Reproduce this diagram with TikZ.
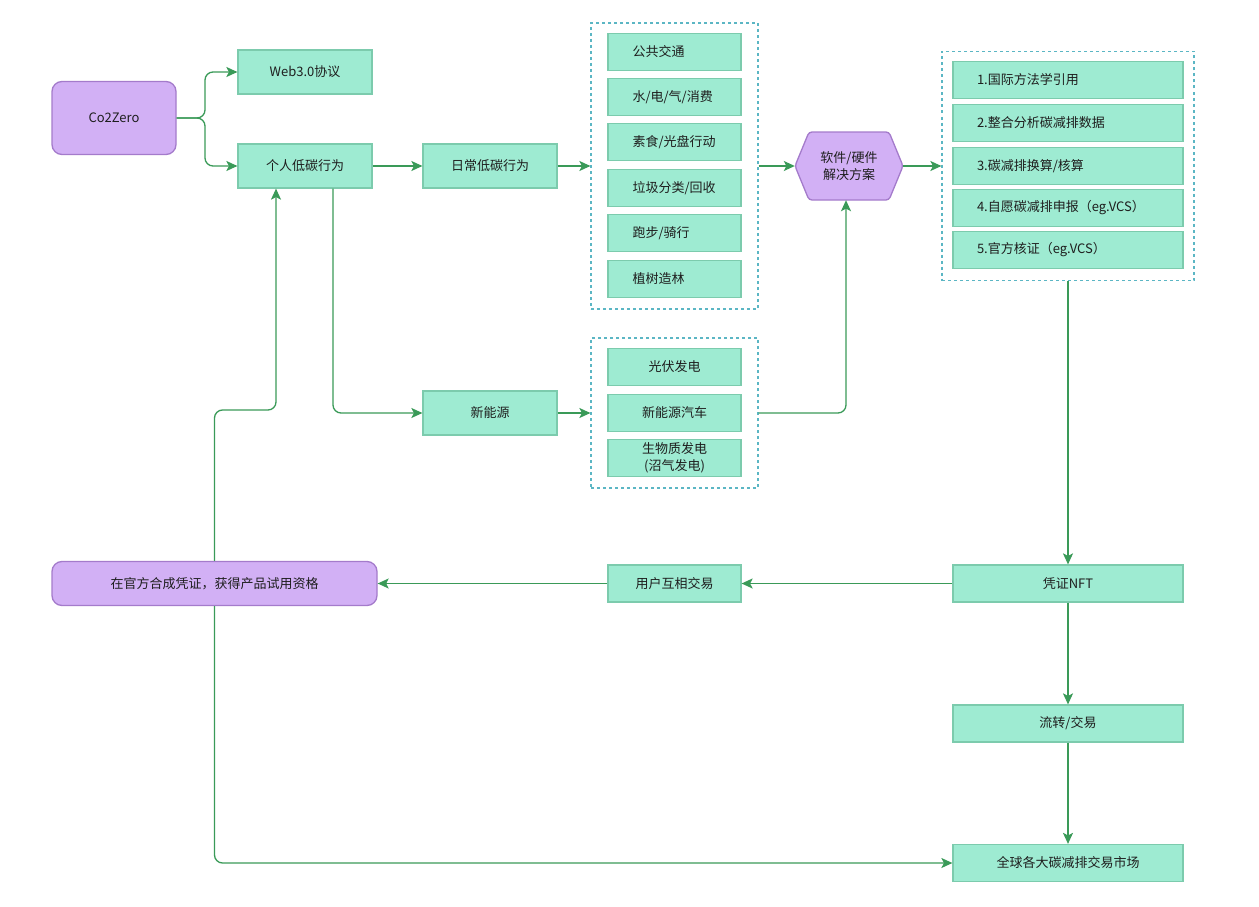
\documentclass[tikz,border=0pt]{standalone}
\usepackage{fontspec}
\setmainfont{Noto Sans CJK SC}
\usetikzlibrary{arrows.meta}
\definecolor{mint}{HTML}{9EEBD2}
\definecolor{mintline}{HTML}{7CCBAD}
\definecolor{lilac}{HTML}{D2B0F5}
\definecolor{lilacline}{HTML}{A47BCB}
\definecolor{arrowc}{HTML}{3A9A58}
\definecolor{groupline}{HTML}{5BB6C4}
\definecolor{ink}{HTML}{1E1E1E}
\tikzset{
  box/.style={draw=mintline, fill=mint, line width=1.2pt, text=ink,
    font=\fontsize{13}{17}\selectfont, align=center, inner sep=2pt},
  wide/.style={box, minimum width=134pt, minimum height=44pt},
  lst/.style={box, minimum width=133pt, minimum height=37pt, text width=84pt, align=left},
  rlst/.style={box, minimum width=230pt, minimum height=37pt, text width=182pt, align=left},
  mid/.style={box, minimum width=133pt, minimum height=37pt},
  long/.style={box, minimum width=230pt, minimum height=37pt},
  pbox/.style={draw=lilacline, fill=lilac, line width=1.3pt, rounded corners=10pt,
    text=ink, font=\fontsize{13}{17}\selectfont, align=center, inner sep=2pt},
  hexline/.style={draw=lilacline, fill=lilac, line width=1.3pt, rounded corners=3pt},
  group/.style={draw=groupline, dash pattern=on 3pt off 3pt, line width=1.2pt, inner sep=0pt},
  flow/.style={draw=arrowc, line width=1.3pt, rounded corners=8pt,
    -{Stealth[length=11pt,width=10pt,inset=2.5pt]}}
}

\begin{document}
\begin{tikzpicture}[x=1pt, y=-1pt]
  \useasboundingbox (0,0) rectangle (1259,907);

  \node[pbox, minimum width=124pt, minimum height=73pt] (co) at (114,118) {Co2Zero};
  \node[wide] (web) at (305,72) {Web3.0协议};
  \node[wide] (gr) at (305,166) {个人低碳行为};
  \node[wide] (dl) at (490,166) {日常低碳行为};
  \node[wide] (ne) at (490,413) {新能源};

  \node[group, minimum width=167pt, minimum height=286pt] (g1) at (674.5,166) {};
  \foreach \n/\y/\t in {1/52/公共交通, 2/97/{水/电/气/消费}, 3/142/{素食/光盘行动},
      4/188/{垃圾分类/回收}, 5/233/{跑步/骑行}, 6/279/植树造林}{
    \node[lst] (d\n) at (674.5,\y) {\t};
  }

  \node[group, minimum width=167pt, minimum height=150pt] (g2) at (674.5,413) {};
  \node[mid] (e1) at (674.5,367) {光伏发电};
  \node[mid] (e2) at (674.5,413) {新能源汽车};
  \node[mid] (e3) at (674.5,458) {生物质发电\\(沼气发电)};

  \draw[hexline] (795,166) -- (809,132) -- (889,132) -- (903,166) -- (889,200) -- (809,200) -- cycle;
  \node[minimum width=108pt, minimum height=68pt, inner sep=0pt, text=ink, align=center,
    font=\fontsize{13}{17}\selectfont] (sol) at (849,166) {软件/硬件\\解决方案};

  \node[group, minimum width=252pt, minimum height=229pt] (g3) at (1068,166) {};
  \foreach \n/\y/\t in {1/80/1.国际方法学引用, 2/123/2.整合分析碳减排数据, 3/166/{3.碳减排换算/核算},
      4/208/4.自愿碳减排申报（eg.VCS）, 5/250/5.官方核证（eg.VCS）}{
    \node[rlst] (s\n) at (1068,\y) {\t};
  }

  \node[long] (nft) at (1068,583.5) {凭证NFT};
  \node[long] (tr) at (1068,723.5) {流转/交易};
  \node[long] (gm) at (1068,863) {全球各大碳减排交易市场};
  \node[mid] (ut) at (674.5,583.5) {用户互相交易};
  \node[pbox, minimum width=325pt, minimum height=44pt] (cert) at (214.5,583.5) {在官方合成凭证，获得产品试用资格};

  \coordinate (split) at (205,118);
  \coordinate (loopup) at (245,410);
  \draw[flow] (co.east) -- (split) |- (web.west);
  \draw[flow] (co.east) -- (split) |- (gr.west);
  \draw[flow] (gr.east) -- (dl.west);
  \draw[flow] (dl.east) -- (g1.west);
  \draw[flow] (g1.east) -- (sol.west);
  \draw[flow] (sol.east) -- (g3.west);
  \draw[flow] ([xshift=28pt]gr.south) |- (ne.west);
  \draw[flow] (ne.east) -- (g2.west);
  \draw[flow] (g2.east) -| ([xshift=-3pt]sol.south);
  \draw[flow] (g3.south) -- (nft.north);
  \draw[flow] (nft.south) -- (tr.north);
  \draw[flow] (tr.south) -- (gm.north);
  \draw[flow] (nft.west) -- (ut.east);
  \draw[flow] (ut.west) -- (cert.east);
  \draw[flow] (cert.north) |- (loopup) -| ([xshift=-29pt]gr.south);
  \draw[flow] (cert.south) |- (gm.west);
\end{tikzpicture}
\end{document}
